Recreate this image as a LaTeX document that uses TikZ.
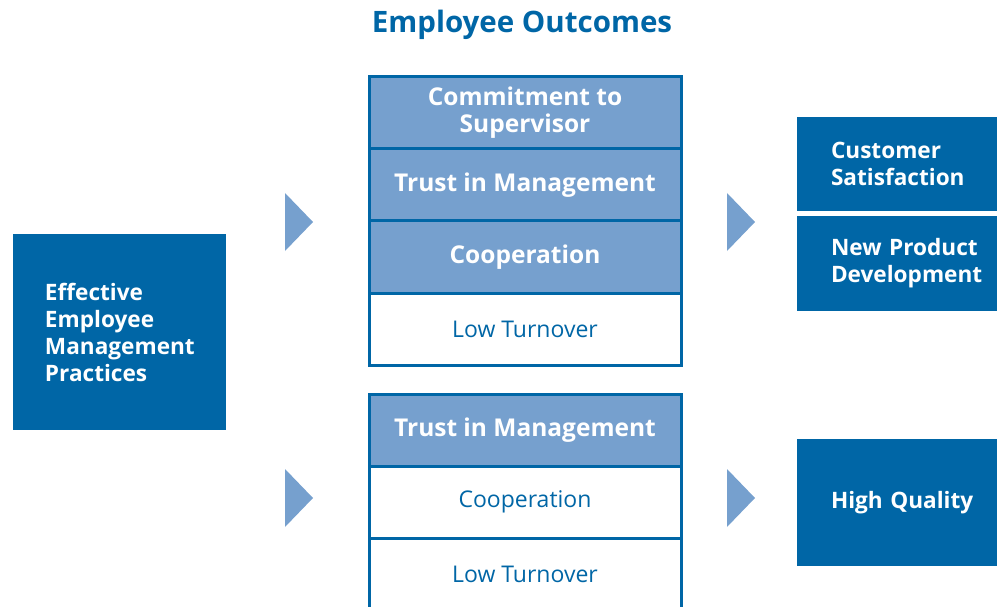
\documentclass[tikz,border=0pt]{standalone}
\usepackage{fontspec}
\setmainfont{Open Sans}
\usetikzlibrary{positioning}
\definecolor{darkblue}{RGB}{0,102,166}
\definecolor{lightblue}{RGB}{118,160,206}
\tikzset{
  row/.style={draw=darkblue, line width=3pt, outer sep=0pt, minimum width=312pt, minimum height=72pt, inner sep=0pt, align=center, font=\fontsize{23}{27}\selectfont},
  shaded/.style={row, fill=lightblue, text=white, font=\fontsize{24.5}{27}\selectfont\bfseries},
  plain/.style={row, fill=white, text=darkblue},
  result/.style={fill=darkblue, text=white, outer sep=0pt, minimum width=213pt, text width=180pt, inner xsep=34pt, inner ysep=0pt, align=left, font=\fontsize{22.6}{27}\selectfont\bfseries},
  pointer/.style={fill=lightblue}
}
\begin{document}
\begin{tikzpicture}[x=1pt, y=-1pt]
 \clip (0,0) rectangle (997,607);
 \node[text=darkblue, font=\fontsize{29.5}{32}\selectfont\bfseries] (title) at (522,25) {Employee Outcomes};
 % left box
 \node[result, minimum width=213pt, minimum height=196pt, text width=149pt, inner xsep=32pt] (practices) at (119.5,332) {Effective\\Employee\\Management\\Practices};
 % upper stack
 \node[shaded] (commit) at (525,113) {Commitment to\\Supervisor};
 \node[shaded, below=0pt of commit] (trustA) {Trust in Management};
 \node[shaded, below=0pt of trustA] (coopA) {Cooperation};
 \node[plain, below=0pt of coopA] (turnA) {Low Turnover};
 % lower stack
 \node[shaded] (trustB) at (525,430) {Trust in Management};
 \node[plain, below=0pt of trustB] (coopB) {Cooperation};
 \node[plain, below=0pt of coopB] (turnB) {Low Turnover};
 % outcomes on the right
 \node[result, minimum height=94pt, anchor=north west] (customer) at (797,117) {Customer\\Satisfaction};
 \node[result, minimum height=95pt, anchor=north west] (product) at (797,216) {New Product\\Development};
 \node[result, minimum height=127pt, anchor=north west] (quality) at (797,439) {High Quality};
 % triangles
 \fill[pointer] (285,193) -- (313,222) -- (285,251) -- cycle;
 \fill[pointer] (285,469) -- (313,498) -- (285,527) -- cycle;
 \fill[pointer] (727,193) -- (755,222) -- (727,251) -- cycle;
 \fill[pointer] (727,469) -- (755,498) -- (727,527) -- cycle;
\end{tikzpicture}
\end{document}
